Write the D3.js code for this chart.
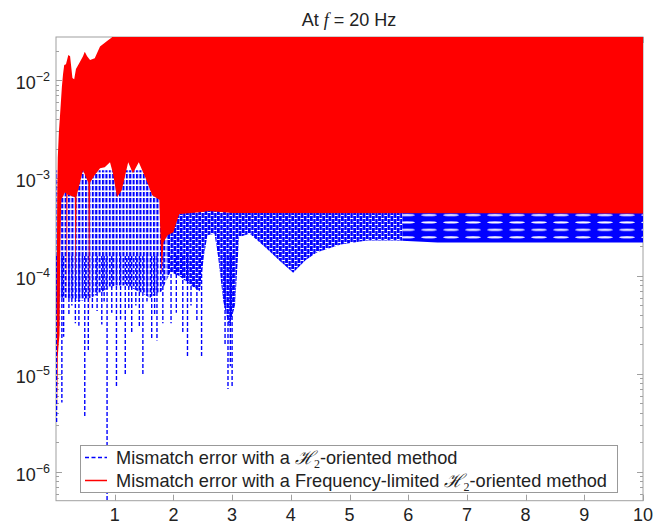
<!DOCTYPE html>
<html><head><meta charset="utf-8">
<script src="https://cdn.jsdelivr.net/npm/d3@7"></script>
<style>body{margin:0;background:#fff}svg{display:block}</style>
</head><body><svg id="c" width="665" height="527"></svg>
<script>
// ---- data ----
const xTicks = [1, 2, 3, 4, 5, 6, 7, 8, 9, 10];
const yTickExps = [-6, -5, -4, -3, -2];
// red (frequency-limited) : upper and lower envelope of the dense oscillation
const redTop = [[0.012,5e-5],[0.02,6e-4],[0.03,1.6e-3],[0.05,3e-3],[0.07,4.5e-3],[0.1,8.5e-3],[0.12,1.15e-2],[0.14,1.42e-2],[0.17,1.45e-2],[0.21,1.8e-2],[0.24,1.75e-2],[0.28,1.05e-2],[0.31,1.02e-2],[0.34,1.3e-2],[0.4,1.5e-2],[0.46,1.75e-2],[0.49,1.95e-2],[0.53,1.75e-2],[0.58,1.6e-2],[0.66,1.67e-2],[0.75,2.2e-2],[0.87,2.5e-2],[0.95,2.72e-2],[1.0,2.9e-2],[10,2.9e-2]];
const redBottom = [[0.012,5e-5],[0.02,4.2e-6],[0.03,1.5e-5],[0.045,2e-5],[0.06,2.5e-5],[0.07,1.5e-4],[0.09,6e-4],[0.15,7.1e-4],[0.175,7e-4],[0.185,4.8e-5],[0.195,6.8e-4],[0.32,6.35e-4],[0.335,8.5e-5],[0.35,6.5e-4],[0.46,1.2e-3],[0.55,9e-4],[0.565,3.6e-5],[0.58,9e-4],[0.66,1.07e-3],[0.75,1.26e-3],[0.83,1.29e-3],[0.92,1.45e-3],[0.97,1.12e-3],[1.04,6.35e-4],[1.12,7.5e-4],[1.23,1.45e-3],[1.31,1.12e-3],[1.41,1.45e-3],[1.52,1.02e-3],[1.64,6.65e-4],[1.76,6e-4],[1.8,1.03e-4],[1.83,2.2e-4],[1.9,2.6e-4],[2.0,2.8e-4],[2.05,3.5e-4],[2.1,4.3e-4],[2.5,4.5e-4],[2.6,4.6e-4],[3.0,4.4e-4],[10,4.35e-4]];
// blue (H2-oriented) : upper and lower envelope of the dense oscillation
const blueTop = [[0.0,1.2e-3],[1.8,1.2e-3],[2.1,5e-4],[10,5e-4]];
const blueBottom = [[0.0,4e-5],[0.05,6e-5],[0.2,6e-5],[0.4,5.5e-5],[0.6,6e-5],[0.8,7e-5],[1.0,8e-5],[1.2,8e-5],[1.4,7e-5],[1.6,6e-5],[1.8,7e-5],[1.95,1.1e-4],[2.1,1.0e-4],[2.3,8e-5],[2.45,7e-5],[2.52,1.6e-4],[2.58,2.6e-4],[2.7,2.7e-4],[2.76,1.6e-4],[2.85,5.5e-5],[2.95,3e-5],[3.05,5e-5],[3.12,2.5e-4],[3.3,2.7e-4],[3.55,2.0e-4],[3.8,1.45e-4],[4.04,1.08e-4],[4.25,1.45e-4],[4.45,1.75e-4],[4.85,2.1e-4],[5.3,2.3e-4],[5.8,2.3e-4],[6.5,2.2e-4],[10,2.2e-4]];
// blue deep troughs [x, trough value]
const blueSpikes = [[0.01,3.1e-6],[0.05,3e-5],[0.1,5.1e-6],[0.13,2.4e-5],[0.22,4e-5],[0.27,5e-5],[0.33,3.3e-5],[0.39,3.1e-5],[0.45,6e-5],[0.49,3.7e-6],[0.55,1.7e-5],[0.62,4.5e-5],[0.7,4.4e-5],[0.78,3.2e-5],[0.82,5.5e-5],[0.87,3e-7],[0.95,4.2e-5],[1.03,7.5e-6],[1.1,3.6e-5],[1.18,9.5e-6],[1.24,4.5e-5],[1.29,2.6e-5],[1.36,5e-5],[1.42,3e-5],[1.48,9.5e-6],[1.55,5.5e-5],[1.63,2.3e-5],[1.68,4e-5],[1.72,2.2e-5],[1.82,3.3e-5],[1.96,3.3e-5],[2.05,4.2e-5],[2.16,2.6e-5],[2.24,1.45e-5],[2.3,5e-5],[2.4,3.5e-5],[2.48,1.45e-5],[2.88,2e-5],[2.93,7e-6],[2.97,1.2e-5],[3.0,7.5e-6]];
const legendLabels = ["Mismatch error with a ", "-oriented method", "Mismatch error with a Frequency-limited ", "-oriented method"];

// ---- layout ----
const svg = d3.select("#c");
const L = 56, R = 643, T = 37, B = 500.7;
const x = d3.scaleLinear().domain([0, 10]).range([L, R]);
const y = d3.scaleLog().domain([5.08e-7, 2.75e-2]).range([B, T]);
const FONT = "'Liberation Sans','Arial',sans-serif";
const axisCol = "#a0a0a0", textCol = "#222";
const BLUE = "#0000ff";

const defs = svg.append("defs");
defs.append("clipPath").attr("id", "clip").append("rect")
  .attr("x", L).attr("y", T).attr("width", R - L).attr("height", B - T);
// texture zones of the blue band (style only)
const zones = [[0, 1.9, "hatchA"], [1.9, 5.9, "hatchB"], [5.9, 10, "hatchC"]];
zones.forEach((z, i) => {
  defs.append("clipPath").attr("id", "zone" + i).append("rect")
    .attr("x", x(z[0])).attr("y", T).attr("width", x(z[1]) - x(z[0])).attr("height", B - T);
});
// vertical dashed strands
const pA = defs.append("pattern").attr("id", "hatchA").attr("patternUnits", "userSpaceOnUse")
  .attr("width", 3.4).attr("height", 6);
pA.append("rect").attr("x", 0).attr("y", 0).attr("width", 2.1).attr("height", 4.4).attr("fill", BLUE);
// dense staggered dashes
const pB = defs.append("pattern").attr("id", "hatchB").attr("patternUnits", "userSpaceOnUse")
  .attr("width", 6.2).attr("height", 6);
pB.append("rect").attr("x", 0).attr("y", 0).attr("width", 2.7).attr("height", 5).attr("fill", BLUE);
pB.append("rect").attr("x", 3.1).attr("y", 3).attr("width", 2.7).attr("height", 5).attr("fill", BLUE);
pB.append("rect").attr("x", 3.1).attr("y", -3).attr("width", 2.7).attr("height", 5).attr("fill", BLUE);
// horizontal bands with thin white slits
const pC = defs.append("pattern").attr("id", "hatchC").attr("patternUnits", "userSpaceOnUse")
  .attr("width", 22).attr("height", 7.4).attr("y", 211);
pC.append("rect").attr("x", 0).attr("y", 0).attr("width", 22).attr("height", 7.4).attr("fill", BLUE);
pC.append("ellipse").attr("cx", 11).attr("cy", 4).attr("rx", 8).attr("ry", 1.1).attr("fill", "#fff");

// frame
svg.append("rect").attr("x", L).attr("y", T).attr("width", R - L).attr("height", B - T)
  .attr("fill", "none").attr("stroke", axisCol).attr("stroke-width", 1);

// y ticks (left and right, inward), major + minor
const minor = [];
for (let e = -7; e <= -2; e++) for (let m = 2; m <= 9; m++) {
  const v = m * Math.pow(10, e);
  if (v >= y.domain()[0] && v <= y.domain()[1]) minor.push(v);
}
const tk = svg.append("g").attr("stroke", axisCol).attr("stroke-width", 1);
yTickExps.forEach(e => {
  const yy = Math.round(y(Math.pow(10, e))) + 0.5;
  tk.append("line").attr("x1", L).attr("x2", L + 6).attr("y1", yy).attr("y2", yy);
  tk.append("line").attr("x1", R).attr("x2", R - 6).attr("y1", yy).attr("y2", yy);
});
minor.forEach(v => {
  const yy = Math.round(y(v)) + 0.5;
  tk.append("line").attr("x1", L).attr("x2", L + 3).attr("y1", yy).attr("y2", yy);
  tk.append("line").attr("x1", R).attr("x2", R - 3).attr("y1", yy).attr("y2", yy);
});
xTicks.forEach(t => {
  const xx = Math.round(x(t)) + 0.5;
  tk.append("line").attr("x1", xx).attr("x2", xx).attr("y1", B).attr("y2", B - 6);
  tk.append("line").attr("x1", xx).attr("x2", xx).attr("y1", T).attr("y2", T + 6);
});

// data
const gData = svg.append("g").attr("clip-path", "url(#clip)");
const poly = d3.line().x(d => x(d[0])).y(d => y(d[1]));
const blueD = poly(blueTop.concat(blueBottom.slice().reverse())) + "Z";
zones.forEach((z, i) => {
  gData.append("g").attr("clip-path", "url(#zone" + i + ")")
    .append("path").attr("d", blueD).attr("fill", "url(#" + z[2] + ")");
});
// blue deep troughs
gData.append("g").selectAll("line").data(blueSpikes).join("line")
  .attr("x1", d => x(d[0])).attr("x2", d => x(d[0]))
  .attr("y1", y(1.6e-4)).attr("y2", d => y(d[1]))
  .attr("stroke", BLUE).attr("stroke-width", 1.4).attr("stroke-dasharray", "4,2");
// red band
gData.append("path").attr("d", poly(redTop.concat(redBottom.slice().reverse())) + "Z")
  .attr("fill", "#ff0000");

// tick labels
const lab = svg.append("g").attr("font-family", FONT).attr("fill", textCol);
xTicks.forEach(t => {
  lab.append("text").attr("x", x(t)).attr("y", 521).attr("text-anchor", "middle")
    .attr("font-size", 18).text(t);
});
yTickExps.forEach(e => {
  const t = lab.append("text").attr("x", 50).attr("y", y(Math.pow(10, e)) + 9)
    .attr("text-anchor", "end").attr("font-size", 18);
  t.append("tspan").text("10");
  t.append("tspan").attr("font-size", 12.5).attr("dy", -8).text("\u2212" + (-e));
});

// title
const title = svg.append("text").attr("x", 349).attr("y", 26).attr("text-anchor", "middle")
  .attr("font-family", FONT).attr("font-size", 18).attr("fill", textCol);
title.append("tspan").text("At ");
title.append("tspan").attr("font-family", "'Liberation Serif',serif").attr("font-style", "italic").text("f");
title.append("tspan").text(" = 20 Hz");

// legend
const lg = svg.append("g");
lg.append("rect").attr("x", 80.5).attr("y", 445.5).attr("width", 537).attr("height", 47)
  .attr("fill", "#fff").attr("stroke", "#999");
lg.append("line").attr("x1", 85).attr("x2", 107).attr("y1", 457.5).attr("y2", 457.5)
  .attr("stroke", BLUE).attr("stroke-width", 1.4).attr("stroke-dasharray", "4,2.5");
lg.append("line").attr("x1", 85).attr("x2", 107).attr("y1", 480.5).attr("y2", 480.5)
  .attr("stroke", "#ff0000").attr("stroke-width", 1.5);
function legText(yb, a, b) {
  const t = lg.append("text").attr("x", 116).attr("y", yb).attr("font-family", FONT)
    .attr("font-size", 18.2).attr("fill", textCol);
  t.append("tspan").text(a);
  t.append("tspan").attr("font-family", "'DejaVu Serif',serif").attr("font-style", "italic").text("\u210B");
  t.append("tspan").attr("font-family", "'Liberation Serif',serif").attr("font-size", 12).attr("dy", 4).text("2");
  t.append("tspan").attr("dy", -4).text(b);
}
legText(464, legendLabels[0], legendLabels[1]);
legText(487, legendLabels[2], legendLabels[3]);
</script></body></html>
